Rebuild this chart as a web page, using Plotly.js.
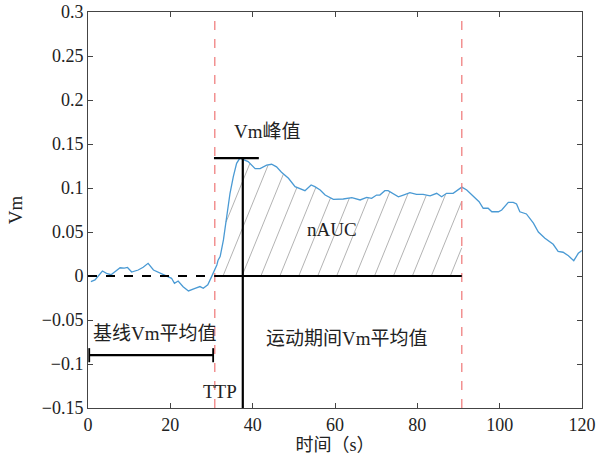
<!DOCTYPE html>
<html>
<head>
<meta charset="utf-8">
<script src="https://cdn.plot.ly/plotly-3.0.1.min.js"></script>
<style>html,body{margin:0;padding:0;background:#fff;}#chart{width:599px;height:456px;}</style>
</head>
<body>
<div id="chart"></div>
<script>
// Time (s) and Vm values
const timeS = [0.7,1.7,3.5,4.5,5.6,7.8,8.8,9.6,10.6,12.2,13.4,14.6,15.9,17.1,18.7,20.3,21.0,21.9,23.1,24.4,26.0,27.2,28.0,29.1,30.0,31.3,31.6,32.1,32.9,33.7,34.5,35.3,36.1,36.9,38.9,40.6,41.8,43.4,44.6,45.8,47.0,48.7,50.3,52.7,54.2,55.1,56.4,57.6,59.6,62.0,64.1,66.1,67.7,68.9,70.1,70.9,72.1,72.9,74.6,75.4,76.6,78.2,79.8,81.4,83.1,84.7,85.9,87.1,88.7,89.9,90.8,92.0,93.2,94.0,95.0,96.0,97.2,98.1,99.7,100.5,102.1,103.3,104.1,104.9,106.5,108.2,109.4,111.0,113.0,114.2,115.4,116.7,118.0,119.1,120.0];
const vm = [-0.0065,-0.0045,0.0057,0.003,0.0015,0.0094,0.009,0.0097,0.0045,0.0068,0.0099,0.0144,0.0068,0.0042,0.0011,-0.0026,-0.0083,-0.0057,-0.0122,-0.017,-0.014,-0.012,-0.014,-0.010,-0.001,0.0125,0.018,0.022,0.041,0.067,0.094,0.113,0.128,0.134,0.130,0.122,0.122,0.126,0.127,0.124,0.118,0.111,0.1015,0.097,0.1034,0.1015,0.0977,0.092,0.087,0.0875,0.089,0.0864,0.0894,0.0883,0.092,0.092,0.097,0.097,0.092,0.090,0.092,0.0947,0.0928,0.0928,0.091,0.094,0.090,0.094,0.094,0.0985,0.101,0.0977,0.092,0.0894,0.0844,0.077,0.077,0.073,0.073,0.075,0.0837,0.0837,0.0818,0.073,0.0705,0.060,0.050,0.043,0.036,0.028,0.027,0.023,0.0174,0.0258,0.029];

// Event markers
const stimStart = 30.8;
const stimEnd = 90.8;
const peakTime = 37.6;
const peakValue = 0.134;
const bracketY = -0.09;

const xTicks = [0,20,40,60,80,100,120];
const yTicks = [-0.15,-0.1,-0.05,0,0.05,0.1,0.15,0.2,0.25,0.3];
const yTickText = ['\u22120.15','\u22120.1','\u22120.05','0','0.05','0.1','0.15','0.2','0.25','0.3'];

const serif = "'Liberation Serif', 'Times New Roman', 'Noto Sans CJK SC', serif";

// curve value by linear interpolation
function vmAt(t) {
  if (t <= timeS[0]) return vm[0];
  for (let i = 1; i < timeS.length; i++) {
    if (t <= timeS[i]) {
      const f = (t - timeS[i-1]) / (timeS[i] - timeS[i-1]);
      return vm[i-1] + f * (vm[i] - vm[i-1]);
    }
  }
  return vm[vm.length - 1];
}

// hatch lines of the area under the curve during stimulation
const hatchSlope = 0.0115;   // Vm per second along a hatch line
const hatchStep = 4.6;       // seconds between hatch lines
const hx = [], hy = [];
for (let c = stimStart - 13 + 1.2; c <= stimEnd; c += hatchStep) {
  let first = null, last = null;
  for (let y = 0; y <= 0.16; y += 0.0004) {
    const x = c + y / hatchSlope;
    const inside = x >= stimStart && x <= stimEnd && y <= vmAt(x);
    if (inside) { if (!first) first = [x, y]; last = [x, y]; }
    else if (first) break;
  }
  if (first && last && last[1] - first[1] > 0.001) {
    hx.push(first[0], last[0], null);
    hy.push(first[1], last[1], null);
  }
}

const traces = [
  {x: hx, y: hy, type: 'scatter', mode: 'lines', line: {color: '#a0a0a0', width: 0.8},
   hoverinfo: 'skip', showlegend: false, connectgaps: false},
  {x: timeS, y: vm, type: 'scatter', mode: 'lines', line: {color: '#4a9ad4', width: 1.3}, showlegend: false}
];

const black = '#000';
const shapes = [
  {type: 'line', xref: 'x', yref: 'paper', x0: stimStart, x1: stimStart, y0: 0, y1: 1, line: {color: '#f08080', width: 1.3, dash: 'dash'}},
  {type: 'line', xref: 'x', yref: 'paper', x0: stimEnd, x1: stimEnd, y0: 0, y1: 1, line: {color: '#f08080', width: 1.3, dash: 'dash'}},
  {type: 'line', xref: 'x', yref: 'y', x0: 0, x1: stimStart, y0: 0, y1: 0, line: {color: black, width: 2.2, dash: 'dash'}},
  {type: 'line', xref: 'x', yref: 'y', x0: stimStart, x1: stimEnd, y0: 0, y1: 0, line: {color: black, width: 2.2}},
  {type: 'line', xref: 'x', yref: 'y', x0: stimStart - 0.2, x1: 41.5, y0: peakValue, y1: peakValue, line: {color: black, width: 2.2}},
  {type: 'line', xref: 'x', yref: 'y', x0: peakTime, x1: peakTime, y0: peakValue, y1: -0.15, line: {color: black, width: 2.2}},
  {type: 'line', xref: 'x', yref: 'y', x0: 0.3, x1: stimStart - 0.4, y0: bracketY, y1: bracketY, line: {color: black, width: 2.2}},
  {type: 'line', xref: 'x', yref: 'y', x0: 0.3, x1: 0.3, y0: bracketY - 0.008, y1: bracketY + 0.008, line: {color: black, width: 1.8}},
  {type: 'line', xref: 'x', yref: 'y', x0: stimStart - 0.4, x1: stimStart - 0.4, y0: bracketY - 0.008, y1: bracketY + 0.008, line: {color: black, width: 1.8}}
];

const af = {family: serif, size: 19, color: '#222'};
const annotations = [
  {x: 43.5, y: 0.164, text: 'Vm峰值', showarrow: false, font: af},
  {x: 59.3, y: 0.053, text: 'nAUC', showarrow: false, font: af},
  {x: 63, y: -0.0705, text: '运动期间Vm平均值', showarrow: false, font: af},
  {x: 16.3, y: -0.065, text: '基线Vm平均值', showarrow: false, font: af},
  {x: 32.1, y: -0.1315, text: 'TTP', showarrow: false, font: af}
];

const axisCommon = {
  showgrid: false, zeroline: false, showline: true, linecolor: '#444', linewidth: 1,
  mirror: 'ticks', ticks: 'inside', ticklen: 5, tickcolor: '#444',
  tickfont: {family: serif, size: 18, color: '#222'}
};

const layout = {
  width: 599, height: 456,
  margin: {l: 88, r: 17, t: 12, b: 48},
  paper_bgcolor: '#fff', plot_bgcolor: '#fff',
  xaxis: Object.assign({}, axisCommon, {range: [0, 120], tickvals: xTicks,
    title: {text: '时间（s）', font: {family: serif, size: 18, color: '#222'}, standoff: 0}}),
  yaxis: Object.assign({}, axisCommon, {range: [-0.15, 0.3], tickvals: yTicks, ticktext: yTickText,
    title: {text: 'Vm', font: {family: serif, size: 19, color: '#222'}, standoff: 14}}),
  shapes: shapes,
  annotations: annotations,
  showlegend: false
};

Plotly.newPlot('chart', traces, layout, {displayModeBar: false, staticPlot: true});
</script>
</body>
</html>
